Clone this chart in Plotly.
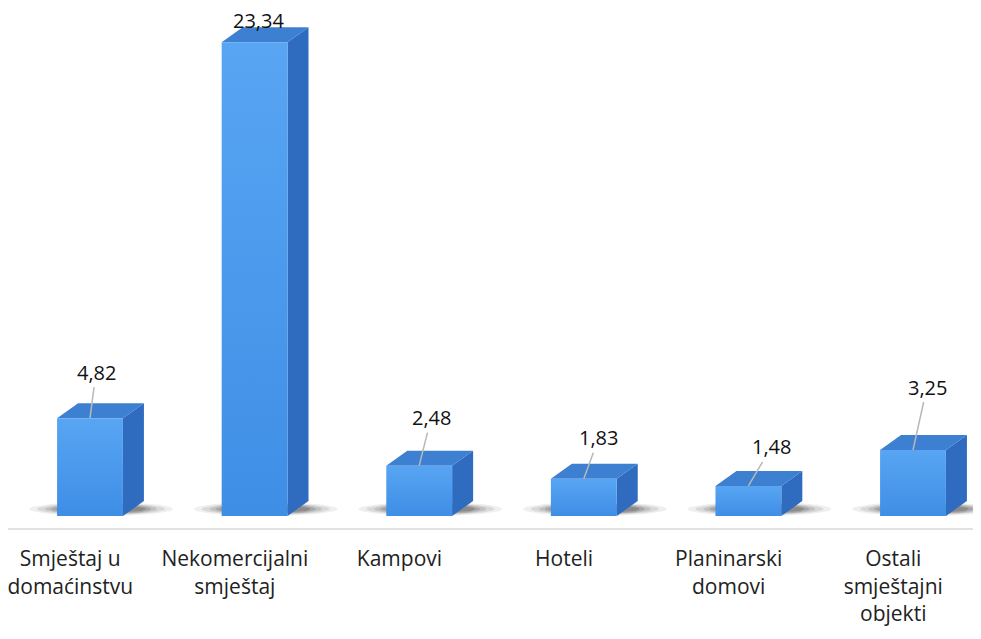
import numpy as np
import plotly.graph_objects as go

# ---- data ----
categories = ["Smještaj u<br>domaćinstvu", "Nekomercijalni<br>smještaj", "Kampovi",
              "Hoteli", "Planinarski<br>domovi", "Ostali<br>smještajni<br>objekti"]
values = [4.82, 23.34, 2.48, 1.83, 1.48, 3.25]
value_labels = ["4,82", "23,34", "2,48", "1,83", "1,48", "3,25"]

# ---- style / layout ----
PAGE_OFF = 8            # browser body margin
PX_X = 164.6            # pixels per category unit
PX_Y = 20.3             # pixels per value unit
X0 = 90 - PAGE_OFF      # pixel of first category centre (figure coords)
BASE = 516 - PAGE_OFF   # pixel of value 0
AXIS = 528 - PAGE_OFF   # pixel of axis line
BAR_W = 0.40            # front face width (x units)
DX = 21 / PX_X          # depth offset x
DY = 15 / PX_Y          # depth offset y
LABEL_OFFSETS = [(6, -46), (4, -22), (12, -48), (15, -41), (23, -39), (14, -63)]
SHOW_LEADER = [True, False, True, True, True, True]
FRONT_TOP = "#58a5f3"
FRONT_BOT = "#3e8ee6"
SIDE = "#2f6bbf"
TOP = "#3d7fd0"

fig = go.Figure()
xs = np.arange(len(values))

# shadows
t = np.linspace(0, 2 * np.pi, 60)
for i, v in zip(xs, values):
    cx = i + 0.067
    for hx, hy, op in [(72, 7, 0.07), (64, 6, 0.10), (56, 5.5, 0.13), (50, 5, 0.16), (45, 4, 0.2)]:
        fig.add_trace(go.Scatter(
            x=cx + (hx / PX_X) * np.cos(t), y=(7 / PX_Y) + (hy / PX_Y) * np.sin(t),
            fill="toself", mode="lines", line=dict(width=0),
            fillcolor=f"rgba(30,30,30,{op})", hoverinfo="skip", showlegend=False))

# 3D bars: side, top, front faces
for i, v in zip(xs, values):
    r = i + BAR_W / 2
    l = i - BAR_W / 2
    fig.add_trace(go.Scatter(
        x=[r, r + DX, r + DX, r, r], y=[0, DY, v + DY, v, 0],
        fill="toself", mode="lines", line=dict(width=0), fillcolor=SIDE,
        hoverinfo="skip", showlegend=False))
    fig.add_trace(go.Scatter(
        x=[l, r, r + DX, l + DX, l], y=[v, v, v + DY, v + DY, v],
        fill="toself", mode="lines", line=dict(width=0), fillcolor=TOP,
        hoverinfo="skip", showlegend=False))
    fig.add_trace(go.Scatter(
        x=[l, r, r, l, l], y=[0, 0, v, v, 0],
        fill="toself", mode="lines", line=dict(width=0),
        fillgradient=dict(type="vertical", colorscale=[[0, FRONT_BOT], [1, FRONT_TOP]]),
        hoverinfo="skip", showlegend=False))

# value labels with leader lines
for i, (v, lab, (ax, ay), sl) in enumerate(zip(values, value_labels, LABEL_OFFSETS, SHOW_LEADER)):
    if sl:
        fig.add_annotation(x=i, y=v, text=lab, showarrow=True, arrowhead=0, arrowwidth=1.5,
                           arrowcolor="#b8b8b8", ax=ax, ay=ay, standoff=0,
                           font=dict(family="Open Sans", size=20, color="#111111"))
    else:
        fig.add_annotation(x=i, y=v, text=lab, showarrow=False, xshift=ax, yshift=-ay,
                           font=dict(family="Open Sans", size=20, color="#111111"))

fig.update_layout(
    width=981, height=639,
    margin=dict(l=0, r=0, t=0, b=639 - AXIS),
    paper_bgcolor="white", plot_bgcolor="white",
    xaxis=dict(range=[-X0 / PX_X, (981 - X0) / PX_X], tickvals=xs - 0.12, ticktext=categories,
               showgrid=False, zeroline=False, showline=True, linecolor="#e2e2e2", linewidth=2,
               ticks="outside", ticklen=11, tickcolor="rgba(0,0,0,0)",
               ticklabeloverflow="allow",
               tickfont=dict(family="Open Sans", size=21, color="#222222")),
    yaxis=dict(range=[-(AXIS - BASE) / PX_Y, BASE / PX_Y], visible=False,
               showgrid=False, zeroline=False),
)

fig.write_html("out.html")
